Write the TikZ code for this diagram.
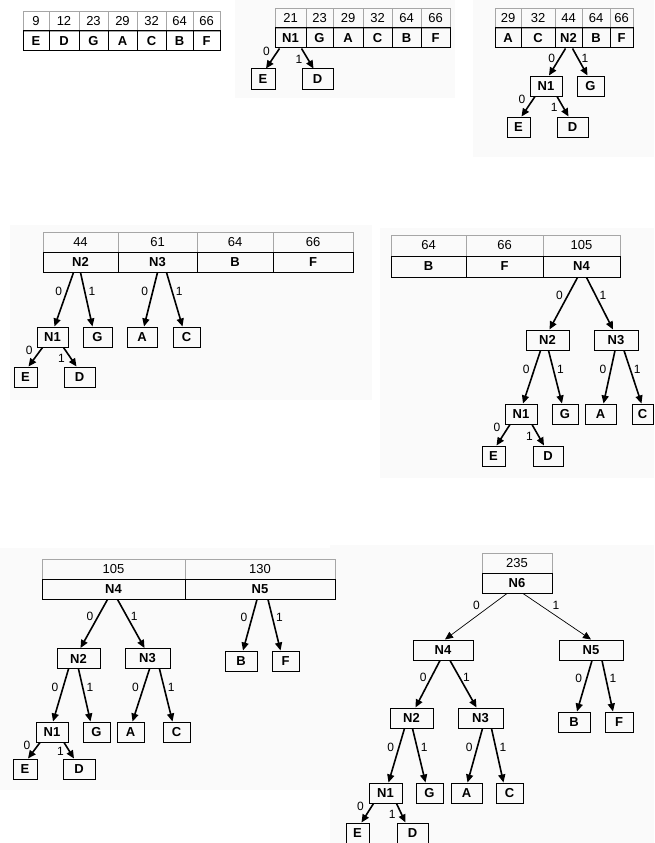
\documentclass[tikz,border=0pt]{standalone}
\usepackage{fontspec}
\setmainfont{Liberation Sans}
\usetikzlibrary{arrows.meta}

\tikzset{
  wcell/.style={draw=black!35, inner sep=0pt, minimum height=20pt, font=\fontsize{13}{13}\selectfont},
  scell/.style={draw=black, line width=1pt, inner sep=0pt, minimum height=20pt, font=\fontsize{13}{13}\selectfont\bfseries},
  box/.style={draw=black, line width=1pt, inner sep=0pt, minimum height=20pt, font=\fontsize{13}{13}\selectfont\bfseries},
  bit/.style={-{Triangle[length=8pt,width=7pt]}, line width=1.6pt},
  thinbit/.style={-{Triangle[length=8pt,width=7pt]}, line width=0.7pt},
  lbl/.style={font=\fontsize{12}{12}\selectfont, inner sep=1pt},
  lz/.style={lbl, pos=.35, left=3pt},
  lo/.style={lbl, pos=.35, right=2pt},
  lze/.style={lbl, pos=.15, left=6pt},
  lod/.style={lbl, pos=.55, left=4pt},
  panel/.style={fill=black!2, draw=none}
}

\begin{document}
\begin{tikzpicture}[x=1pt, y=-1pt]
\useasboundingbox (0,0) rectangle (654,843);
\clip (0,0) rectangle (654,843);

% screen backgrounds
\fill[panel] (235,0) rectangle (455,98);
\fill[panel] (473,0) rectangle (654,157);
\fill[panel] (10,225) rectangle (372,400);
\fill[panel] (380,228) rectangle (654,478);
\fill[panel] (0,548) rectangle (340,790);
\fill[panel] (330,545) rectangle (654,843);

% step 1
\foreach \xa/\xb/\w/\s in {23/49/9/E, 49/79/12/D, 79/108/23/G, 108/137/29/A, 137/166/32/C, 166/193/64/B, 193/220/66/F}{
  \node[wcell, minimum width={(\xb-\xa)*1pt}] (s1w\s) at ({(\xa+\xb)/2},21) {\w};
  \node[scell, minimum width={(\xb-\xa)*1pt}] (s1\s) at ({(\xa+\xb)/2},41) {\s};
}

% step 2
\foreach \xa/\xb/\w/\s in {275/306/21/N1, 306/333/23/G, 333/363/29/A, 363/392/32/C, 392/421/64/B, 421/450/66/F}{
  \node[wcell, minimum width={(\xb-\xa)*1pt}] (s2w\s) at ({(\xa+\xb)/2},18) {\w};
  \node[scell, minimum width={(\xb-\xa)*1pt}] (s2\s) at ({(\xa+\xb)/2},38) {\s};
}
\node[box, minimum width=24pt] (s2E) at (263,79) {E};
\node[box, minimum width=31pt] (s2D) at (317.5,79) {D};
\draw[bit] ([xshift=-11pt]s2N1.south) -- ([xshift=3pt]s2E.north) node[lze] {0};
\draw[bit] ([xshift=11pt]s2N1.south) -- ([xshift=-4pt]s2D.north) node[lod] {1};

% step 3
\foreach \xa/\xb/\w/\s in {495/521/29/A, 521/555/32/C, 555/582/44/N2, 582/610/64/B, 610/633/66/F}{
  \node[wcell, minimum width={(\xb-\xa)*1pt}] (s3w\s) at ({(\xa+\xb)/2},18) {\w};
  \node[scell, minimum width={(\xb-\xa)*1pt}] (s3\s) at ({(\xa+\xb)/2},38) {\s};
}
\node[box, minimum width=32pt] (s3N1) at (546,86) {N1};
\node[box, minimum width=27pt] (s3G) at (590.5,86) {G};
\node[box, minimum width=23pt] (s3E) at (518.5,127) {E};
\node[box, minimum width=31pt] (s3D) at (572.5,127) {D};
\draw[bit] ([xshift=-3pt]s3N2.south) -- ([xshift=3pt]s3N1.north) node[lz] {0};
\draw[bit] ([xshift=4pt]s3N2.south) -- ([xshift=-3pt]s3G.north) node[lo] {1};
\draw[bit] ([xshift=-11pt]s3N1.south) -- ([xshift=3pt]s3E.north) node[lze] {0};
\draw[bit] ([xshift=11pt]s3N1.south) -- ([xshift=-4pt]s3D.north) node[lod] {1};

% step 4
\foreach \xa/\xb/\w/\s in {43/118/44/N2, 118/197/61/N3, 197/273/64/B, 273/353/66/F}{
  \node[wcell, minimum width={(\xb-\xa)*1pt}] (s4w\s) at ({(\xa+\xb)/2},242) {\w};
  \node[scell, minimum width={(\xb-\xa)*1pt}] (s4\s) at ({(\xa+\xb)/2},262) {\s};
}
\node[box, minimum width=31pt] (s4N1) at (52.5,337) {N1};
\node[box, minimum width=29pt] (s4G) at (97.5,337) {G};
\node[box, minimum width=30pt] (s4A) at (142,337) {A};
\node[box, minimum width=27pt] (s4C) at (186.5,337) {C};
\node[box, minimum width=23pt] (s4E) at (25.5,377) {E};
\node[box, minimum width=31pt] (s4D) at (79.5,377) {D};
\draw[bit] ([xshift=-7pt]s4N2.south) -- ([xshift=2pt]s4N1.north) node[lz] {0};
\draw[bit] ([xshift=0pt]s4N2.south) -- ([xshift=-5pt]s4G.north) node[lo] {1};
\draw[bit] ([xshift=0pt]s4N3.south) -- ([xshift=2pt]s4A.north) node[lz] {0};
\draw[bit] ([xshift=9pt]s4N3.south) -- ([xshift=-4pt]s4C.north) node[lo] {1};
\draw[bit] ([xshift=-10pt]s4N1.south) -- ([xshift=3pt]s4E.north) node[lze] {0};
\draw[bit] ([xshift=11pt]s4N1.south) -- ([xshift=-3pt]s4D.north) node[lod] {1};

% step 5
\foreach \xa/\xb/\w/\s in {391/466/64/B, 466/543/66/F, 543/620/105/N4}{
  \node[wcell, minimum width={(\xb-\xa)*1pt}, minimum height=21pt] (s5w\s) at ({(\xa+\xb)/2},245.5) {\w};
  \node[scell, minimum width={(\xb-\xa)*1pt}, minimum height=21pt] (s5\s) at ({(\xa+\xb)/2},266.5) {\s};
}
\node[box, minimum width=43pt] (s5N2) at (547.5,340) {N2};
\node[box, minimum width=44pt] (s5N3) at (616,340) {N3};
\node[box, minimum width=32pt] (s5N1) at (521,414) {N1};
\node[box, minimum width=26pt] (s5G) at (565,414) {G};
\node[box, minimum width=31pt] (s5A) at (600.5,414) {A};
\node[box, minimum width=21pt] (s5C) at (642.5,414) {C};
\node[box, minimum width=23pt] (s5E) at (493.5,456) {E};
\node[box, minimum width=30pt] (s5D) at (548,456) {D};
\draw[bit] ([xshift=-4pt]s5N4.south) -- ([xshift=2pt]s5N2.north) node[lz] {0};
\draw[bit] ([xshift=5pt]s5N4.south) -- ([xshift=-3pt]s5N3.north) node[lo] {1};
\draw[bit] ([xshift=-7pt]s5N2.south) -- ([xshift=2pt]s5N1.north) node[lz] {0};
\draw[bit] ([xshift=1pt]s5N2.south) -- ([xshift=-3pt]s5G.north) node[lo] {1};
\draw[bit] ([xshift=-1pt]s5N3.south) -- ([xshift=3pt]s5A.north) node[lz] {0};
\draw[bit] ([xshift=8pt]s5N3.south) -- ([xshift=-1pt]s5C.north) node[lo] {1};
\draw[bit] ([xshift=-11pt]s5N1.south) -- ([xshift=3pt]s5E.north) node[lze] {0};
\draw[bit] ([xshift=11pt]s5N1.south) -- ([xshift=-4pt]s5D.north) node[lod] {1};

% step 6
\foreach \xa/\xb/\w/\s in {42/185/105/N4, 185/335/130/N5}{
  \node[wcell, minimum width={(\xb-\xa)*1pt}] (s6w\s) at ({(\xa+\xb)/2},569) {\w};
  \node[scell, minimum width={(\xb-\xa)*1pt}] (s6\s) at ({(\xa+\xb)/2},589) {\s};
}
\node[box, minimum width=43pt] (s6N2) at (78.5,658.5) {N2};
\node[box, minimum width=45pt] (s6N3) at (147.5,658.5) {N3};
\node[box, minimum width=32pt] (s6B) at (241,661) {B};
\node[box, minimum width=27pt] (s6F) at (285.5,661) {F};
\node[box, minimum width=32pt] (s6N1) at (52,732) {N1};
\node[box, minimum width=27pt] (s6G) at (96.5,732) {G};
\node[box, minimum width=27pt] (s6A) at (130.5,732) {A};
\node[box, minimum width=27pt] (s6C) at (176.5,732) {C};
\node[box, minimum width=24pt] (s6E) at (25,769) {E};
\node[box, minimum width=32pt] (s6D) at (79,769) {D};
\draw[bit] ([xshift=-6pt]s6N4.south) -- ([xshift=2pt]s6N2.north) node[lz] {0};
\draw[bit] ([xshift=4pt]s6N4.south) -- ([xshift=-3pt]s6N3.north) node[lo] {1};
\draw[bit] ([xshift=-3pt]s6N5.south) -- ([xshift=2pt]s6B.north) node[lz] {0};
\draw[bit] ([xshift=8pt]s6N5.south) -- ([xshift=-5pt]s6F.north) node[lo] {1};
\draw[bit] ([xshift=-10pt]s6N2.south) -- ([xshift=1pt]s6N1.north) node[lz] {0};
\draw[bit] ([xshift=0pt]s6N2.south) -- ([xshift=-6pt]s6G.north) node[lo] {1};
\draw[bit] ([xshift=2pt]s6N3.south) -- ([xshift=2pt]s6A.north) node[lz] {0};
\draw[bit] ([xshift=12pt]s6N3.south) -- ([xshift=-4pt]s6C.north) node[lo] {1};
\draw[bit] ([xshift=-12pt]s6N1.south) -- ([xshift=3pt]s6E.north) node[lze] {0};
\draw[bit] ([xshift=12pt]s6N1.south) -- ([xshift=-5pt]s6D.north) node[lod] {1};

% step 7
\node[wcell, minimum width=70pt] (s7w) at (517,563) {235};
\node[scell, minimum width=70pt] (s7N6) at (517,583) {N6};
\node[box, minimum width=60pt] (s7N4) at (443,650) {N4};
\node[box, minimum width=64pt] (s7N5) at (591,650) {N5};
\node[box, minimum width=43pt] (s7N2) at (411.5,718) {N2};
\node[box, minimum width=45pt] (s7N3) at (480.5,718) {N3};
\node[box, minimum width=32pt] (s7B) at (574,722) {B};
\node[box, minimum width=28pt] (s7F) at (619,722) {F};
\node[box, minimum width=33pt] (s7N1) at (385.5,793) {N1};
\node[box, minimum width=27pt] (s7G) at (429.5,793) {G};
\node[box, minimum width=31pt] (s7A) at (466.5,793) {A};
\node[box, minimum width=27pt] (s7C) at (509.5,793) {C};
\node[box, minimum width=23pt] (s7E) at (357.5,833) {E};
\node[box, minimum width=31pt] (s7D) at (412.5,833) {D};
\draw[thinbit] ([xshift=-10pt]s7N6.south) -- ([xshift=2pt]s7N4.north) node[lbl, pos=.4, above left=1pt] {0};
\draw[thinbit] ([xshift=6pt]s7N6.south) -- (s7N5.north) node[lbl, pos=.4, above right=1pt] {1};
\draw[bit] ([xshift=-3pt]s7N4.south) -- ([xshift=4pt]s7N2.north) node[lz] {0};
\draw[bit] ([xshift=7pt]s7N4.south) -- ([xshift=-4pt]s7N3.north) node[lo] {1};
\draw[bit] ([xshift=1pt]s7N5.south) -- ([xshift=3pt]s7B.north) node[lz] {0};
\draw[bit] ([xshift=11pt]s7N5.south) -- ([xshift=-6pt]s7F.north) node[lo] {1};
\draw[bit] ([xshift=-7pt]s7N2.south) -- ([xshift=3pt]s7N1.north) node[lz] {0};
\draw[bit] ([xshift=1pt]s7N2.south) -- ([xshift=-4pt]s7G.north) node[lo] {1};
\draw[bit] ([xshift=2pt]s7N3.south) -- ([xshift=1pt]s7A.north) node[lz] {0};
\draw[bit] ([xshift=11pt]s7N3.south) -- ([xshift=-6pt]s7C.north) node[lo] {1};
\draw[bit] ([xshift=-12pt]s7N1.south) -- ([xshift=4pt]s7E.north) node[lze] {0};
\draw[bit] ([xshift=11pt]s7N1.south) -- ([xshift=-7pt]s7D.north) node[lod] {1};
\end{tikzpicture}
\end{document}
